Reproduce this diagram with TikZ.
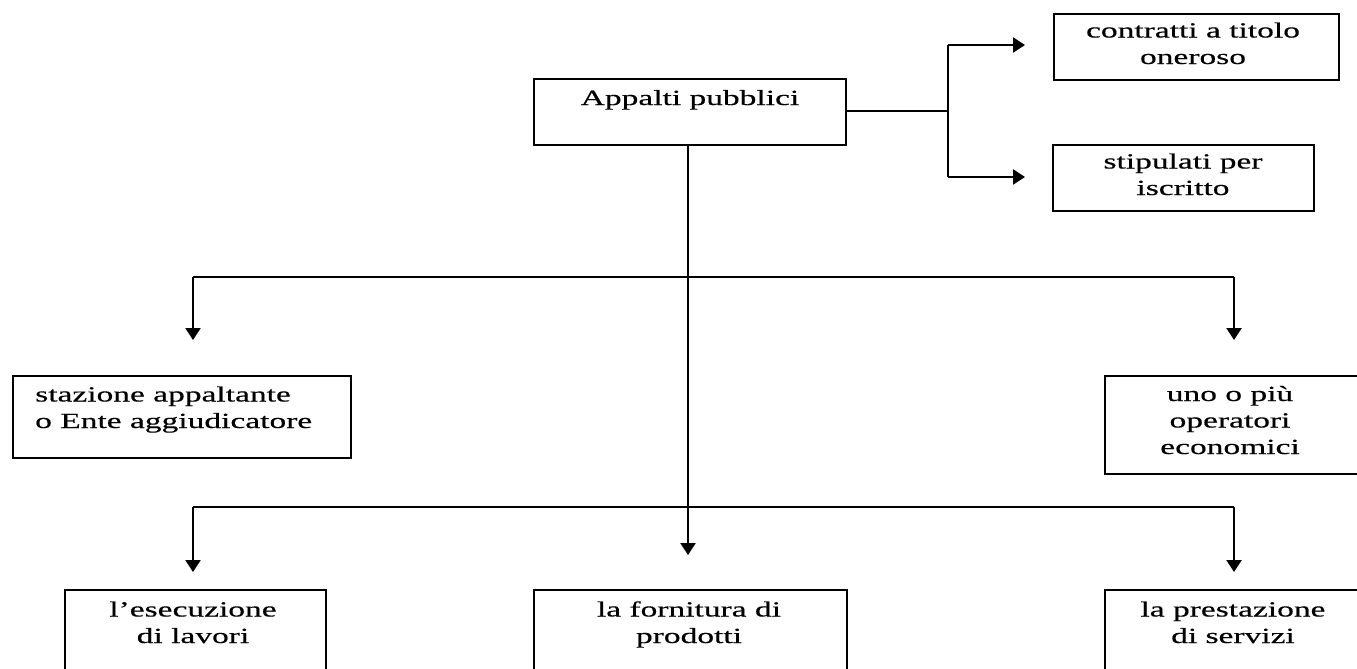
\documentclass[tikz,border=0pt]{standalone}
\usepackage{fontspec}
\setmainfont{Liberation Serif}[FakeStretch=1.55,FakeBold=0.4]
\usetikzlibrary{arrows.meta}
\begin{document}
\begin{tikzpicture}[x=1pt,y=-1pt,
  box/.style={draw,line width=2.3pt,rectangle,inner sep=0pt},
  lbl/.style={inner sep=0pt,font=\fontsize{21.6}{26.5}\selectfont,align=center,anchor=base},
  link/.style={line width=2.3pt},
  arr/.style={line width=2.3pt,-{Triangle[length=12pt,width=15pt]}}]
\useasboundingbox (0,0) rectangle (1357,669);
\begin{scope}
\clip (0,0) rectangle (1357,669);
% boxes, drawn by their corners
\node[box,minimum width=312pt,minimum height=66pt,anchor=north west] (app) at (533,78) {};
\node[box,minimum width=285pt,minimum height=66pt,anchor=north west] (con) at (1053,13) {};
\node[box,minimum width=261pt,minimum height=66pt,anchor=north west] (sti) at (1052,144) {};
\node[box,minimum width=338pt,minimum height=82pt,anchor=north west] (sta) at (12,375) {};
\node[box,minimum width=256pt,minimum height=98pt,anchor=north west] (uno) at (1104,375) {};
\node[box,minimum width=261pt,minimum height=120pt,anchor=north west] (ese) at (64,589) {};
\node[box,minimum width=313pt,minimum height=120pt,anchor=north west] (for) at (533,589) {};
\node[box,minimum width=260pt,minimum height=120pt,anchor=north west] (pre) at (1104,589) {};
% texts (anchored on the baseline of their last line)
\node[lbl] (tapp) at (690,105) {Appalti pubblici};
\node[lbl] (tcon) at (1193,64) {contratti a titolo\\oneroso};
\node[lbl] (tsti) at (1183,195) {stipulati per\\iscritto};
\node[lbl,align=left,anchor=base west] (tsta) at (35,428) {stazione appaltante\\o Ente aggiudicatore};
\node[lbl] (tuno) at (1230,454) {uno o più\\operatori\\economici};
\node[lbl] (tese) at (193,643) {l’esecuzione\\di lavori};
\node[lbl] (tfor) at (689,643) {la fornitura di\\prodotti};
\node[lbl] (tpre) at (1233,643) {la prestazione\\di servizi};
\end{scope}
% junction points and free arrow ends
\coordinate (jr) at (948,111);
\coordinate (jrt) at (948,45);
\coordinate (jrb) at (948,177);
\coordinate (ecn) at (1025,45);
\coordinate (est) at (1025,177);
\coordinate (j1l) at (193,277);
\coordinate (j1r) at (1234,277);
\coordinate (j1m) at (688,277);
\coordinate (esta) at (193,340);
\coordinate (euno) at (1234,340);
\coordinate (j2l) at (193,507);
\coordinate (j2r) at (1234,507);
\coordinate (eese) at (193,572);
\coordinate (efor) at (688,555);
\coordinate (epre) at (1234,572);
% right branch
\draw[link] (app.east |- jr) -- (jr);
\draw[link] (jrt) -- (jrb);
\draw[arr] (jrt) -- (ecn);
\draw[arr] (jrb) -- (est);
% trunk
\draw[arr] (app.south -| j1m) -- (efor);
% first level
\draw[link] (j1l) -- (j1r);
\draw[arr] (j1l) -- (esta);
\draw[arr] (j1r) -- (euno);
% second level
\draw[link] (j2l) -- (j2r);
\draw[arr] (j2l) -- (eese);
\draw[arr] (j2r) -- (epre);
\end{tikzpicture}
\end{document}
